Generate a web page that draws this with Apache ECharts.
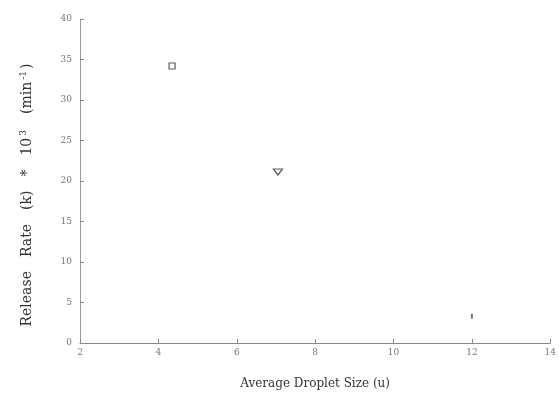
<!DOCTYPE html>
<html>
<head>
<meta charset="utf-8">
<script src="https://cdn.jsdelivr.net/npm/echarts@6/dist/echarts.min.js"></script>
<style>html,body{margin:0;padding:0;background:#fff}#c{width:559px;height:404px}</style>
</head>
<body>
<div id="c"></div>
<script>
var dropletSizes = [4.35, 7.05, 12.0];
var releaseRates = [34.2, 21.1, 3.3];
var markerSymbols = ['rect', 'triangle', 'rect'];
var xTicks = [2, 4, 6, 8, 10, 12, 14];
var yTicks = [0, 5, 10, 15, 20, 25, 30, 35, 40];

var chart = echarts.init(document.getElementById('c'));
var pts = dropletSizes.map(function (x, i) {
  var s = markerSymbols[i];
  return {
    value: [x, releaseRates[i]],
    symbol: s,
    symbolSize: i === 2 ? [2, 5] : (s === 'rect' ? 6 : [9, 6]),
    symbolRotate: s === 'triangle' ? 180 : 0,
    itemStyle: i === 2 ? {color: '#555', borderWidth: 0} : {color: '#fff', borderColor: '#333', borderWidth: 1.2}
  };
});
var serif = 'DejaVu Serif';
chart.setOption({
  animation: false,
  backgroundColor: '#fff',
  grid: {left: 80, right: 4, top: 19, bottom: 61},
  xAxis: {
    type: 'value', min: 2, max: 14, interval: 2,
    name: 'Average Droplet Size (u)', nameLocation: 'middle', nameGap: 35,
    nameTextStyle: {fontFamily: serif, fontSize: 12, color: '#333'},
    axisLine: {lineStyle: {color: '#888', width: 1}},
    axisTick: {show: true, inside: true, length: 4, lineStyle: {color: '#888'}},
    axisLabel: {fontFamily: serif, fontSize: 9, color: '#777', margin: 5,
      formatter: function (v) { return xTicks.indexOf(v) >= 0 ? String(v) : ''; }},
    splitLine: {show: false}
  },
  yAxis: {
    type: 'value', min: 0, max: 40, interval: 5,
    name: '{a|Release}{g|}{a|Rate}{g|}{a|(k)}{g|}{a|*}{g|}{a|10}{s|3}{g|}{a|(min}{s|-1}{a|)}',
    nameLocation: 'middle', nameGap: 44, nameRotate: 90,
    nameTextStyle: {
      padding: [0, 28, 0, 0],
      rich: {
        a: {fontFamily: serif, fontSize: 14, color: '#333'},
        g: {width: 14},
        s: {fontFamily: serif, fontSize: 9, color: '#333', verticalAlign: 'top', padding: [0, 2, 8, 2]}
      }
    },
    axisLine: {show: true, lineStyle: {color: '#999', width: 1}},
    axisTick: {show: true, inside: true, length: 4, lineStyle: {color: '#888'}},
    axisLabel: {fontFamily: serif, fontSize: 9, color: '#777', margin: 8,
      formatter: function (v) { return yTicks.indexOf(v) >= 0 ? String(v) : ''; }},
    splitLine: {show: false}
  },
  series: [{type: 'scatter', data: pts}]
});
</script>
</body>
</html>
